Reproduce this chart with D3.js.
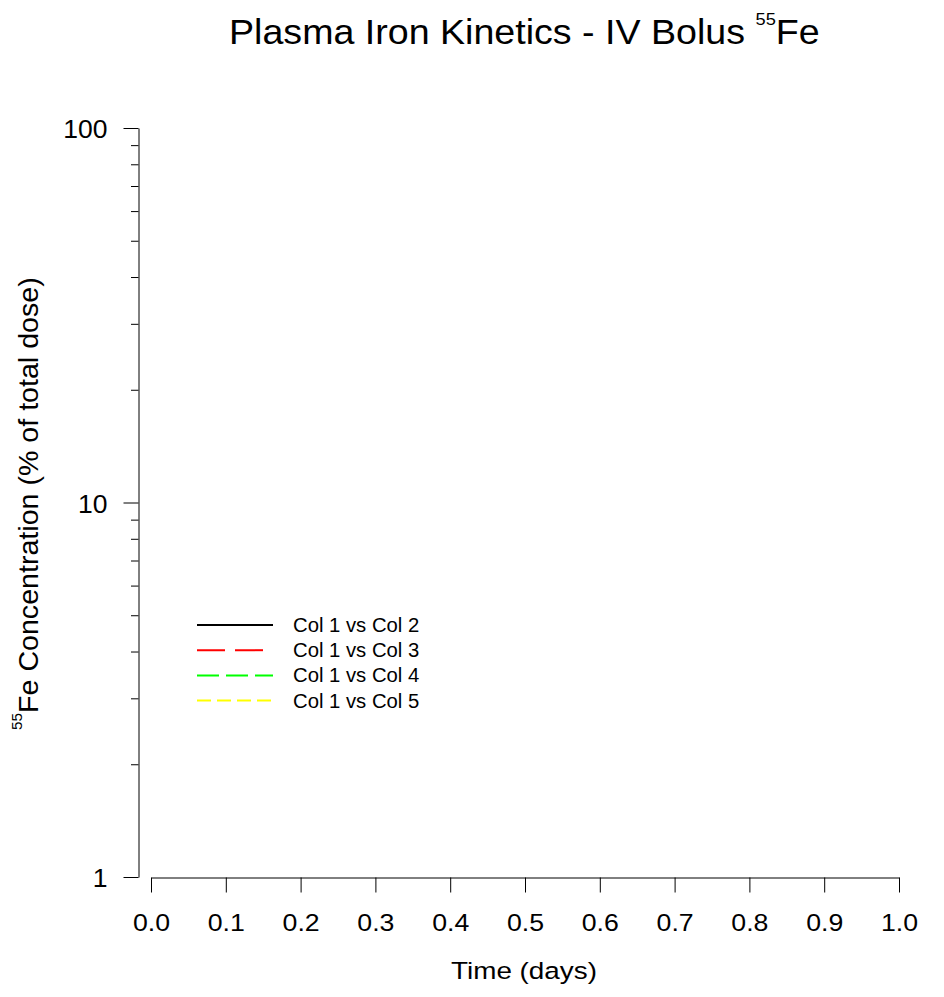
<!DOCTYPE html>
<html>
<head>
<meta charset="utf-8">
<script src="https://cdnjs.cloudflare.com/ajax/libs/d3/7.8.5/d3.min.js"></script>
<style>
  body { margin: 0; background: #fff }
  text { font-family: "Liberation Sans", Arial, sans-serif; fill: #000 }
</style>
</head>
<body>
<div id="chart"></div>
<script>
// data (plot is empty in the source, every series has no points)
var times = []
var col2 = []
var col3 = []
var col4 = []
var col5 = []

var seriesNames = ["Col 1 vs Col 2", "Col 1 vs Col 3", "Col 1 vs Col 4", "Col 1 vs Col 5"]
var seriesColors = ["#000000", "#ff0000", "#00ff00", "#ffff00"]
var seriesDashes = [null, "28,10", "22,7", "14,6"]
var seriesValues = [col2, col3, col4, col5]

var xTicks = [0, 0.1, 0.2, 0.3, 0.4, 0.5, 0.6, 0.7, 0.8, 0.9, 1.0]
var yMajor = [1, 10, 100]
var yMinor = [2, 3, 4, 5, 6, 7, 8, 9, 20, 30, 40, 50, 60, 70, 80, 90]

var width = 944, height = 997

var svg = d3.select("#chart").append("svg")
  .attr("width", width)
  .attr("height", height)

var x = d3.scaleLinear().domain([0, 1]).range([151, 899])
var y = d3.scaleLog().domain([1, 100]).range([877, 128])

// stretch a text horizontally so it covers the given width
function fitWidth(sel, w, cx, cy) {
  var bw = sel.node().getBBox().width
  var k = w / bw
  sel.attr("transform", "translate(" + cx + "," + cy + ") scale(" + k + ",1) translate(" + (-cx) + "," + (-cy) + ")")
}

// x axis
var xAxis = svg.append("g")
  .attr("transform", "translate(0,877.5)")
  .call(d3.axisBottom(x).tickValues(xTicks).tickFormat(d3.format(".1f")).tickSize(15).tickSizeOuter(0))
xAxis.selectAll("path, line").attr("stroke", "#000")
xAxis.selectAll("text")
  .attr("y", 53.5).attr("dy", 0)
  .style("font-size", "23px")
  .attr("transform", "scale(1.16,1)")

// y axis
var yAxis = svg.append("g")
  .attr("transform", "translate(138.5,0)")
  .call(d3.axisLeft(y).tickValues(yMajor).tickFormat(d3.format("d")).tickSize(15).tickSizeOuter(0))
yAxis.selectAll("path, line").attr("stroke", "#000")
yAxis.selectAll("text")
  .attr("x", -31).attr("dy", "0.36em")
  .style("font-size", "26.5px")

svg.append("g")
  .attr("transform", "translate(138.5,0)")
  .call(d3.axisLeft(y).tickValues(yMinor).tickFormat("").tickSize(7.5))
  .call(function(g) { g.select(".domain").remove() })
  .selectAll("line").attr("stroke", "#000")

svg.selectAll(".domain").attr("stroke", "#000")

// series lines
var line = d3.line()
  .x(function(d, i) { return x(times[i]) })
  .y(function(d) { return y(d) })

svg.append("g").selectAll("path")
  .data(seriesValues)
  .join("path")
  .attr("fill", "none")
  .attr("stroke", function(d, i) { return seriesColors[i] })
  .attr("stroke-width", 2)
  .attr("stroke-dasharray", function(d, i) { return seriesDashes[i] })
  .attr("d", function(d) { return d.length ? line(d) : null })

// legend
var legend = svg.append("g").selectAll("g")
  .data(seriesNames)
  .join("g")
  .attr("transform", function(d, i) { return "translate(0," + (625 + i * 25.2) + ")" })

legend.append("line")
  .attr("x1", 197).attr("x2", 273)
  .attr("stroke", function(d, i) { return seriesColors[i] })
  .attr("stroke-width", 2)
  .attr("stroke-dasharray", function(d, i) { return seriesDashes[i] })

legend.append("text")
  .attr("x", 293).attr("y", 7)
  .style("font-size", "20.3px")
  .text(function(d) { return d })

// title
var title = svg.append("text")
  .attr("x", 229).attr("y", 44.5)
  .style("font-size", "35px")
title.append("tspan").text("Plasma Iron Kinetics - IV Bolus ")
title.append("tspan").attr("dy", -19).style("font-size", "17px").text("55")
title.append("tspan").attr("dy", 19).text("Fe")
fitWidth(title, 591, 229, 44.5)

// x label
var xLabel = svg.append("text")
  .attr("x", 524).attr("y", 979.5)
  .attr("text-anchor", "middle")
  .style("font-size", "23.5px")
  .text("Time (days)")
fitWidth(xLabel, 146, 524, 979.5)

// y label
var yLabel = svg.append("text")
  .attr("transform", "translate(38,730) rotate(-90)")
  .style("font-size", "28px")
yLabel.append("tspan").attr("dy", -16).style("font-size", "15px").text("55")
yLabel.append("tspan").attr("dy", 16).text("Fe Concentration (% of total dose)")
var yl = yLabel.node().getBBox().width
yLabel.attr("transform", "translate(38,730) rotate(-90) scale(" + (453 / yl) + ",1)")
</script>
</body>
</html>
